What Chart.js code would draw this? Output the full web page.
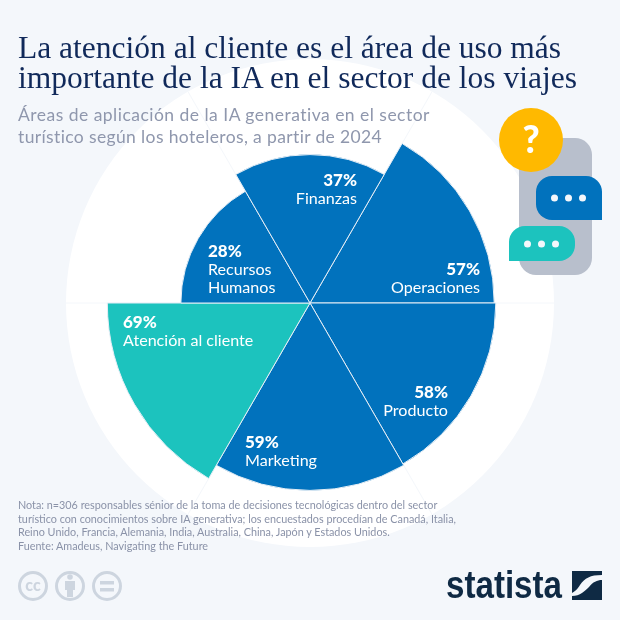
<!DOCTYPE html>
<html lang="es">
<head>
<meta charset="utf-8">
<title>IA en el sector de los viajes</title>
<script src="https://cdn.jsdelivr.net/npm/chart.js@4/dist/chart.umd.min.js"></script>
<style>
    html, body { margin: 0; padding: 0; background: #f4f7fb; }
    #page { position: relative; width: 620px; height: 620px; overflow: hidden; background: #f4f7fb; }
    #page canvas { position: absolute; left: 0; top: 0; }
    .txt { position: absolute; white-space: nowrap; }
    #title { left: 18px; top: 33px; font: 400 31.5px/30px "Liberation Serif", serif; color: #10295a; }
    #subtitle { left: 18px; top: 104px; font: 400 17.5px/22px Lato, sans-serif; color: #8f97ad; letter-spacing: 0.48px; }
    #subtitle span { letter-spacing: 0.37px; }
    #note { left: 18px; top: 498px; font: 400 10.8px/13.7px Lato, sans-serif; color: #8a92a8; }
    #art, #marks { position: absolute; left: 0; top: 0; }
</style>
</head>
<body>
<div id="page">
    <canvas id="chart" width="620" height="620"></canvas>
    <svg id="art" width="620" height="620" viewBox="0 0 620 620">
        <rect x="519" y="138" width="73" height="137" rx="17" fill="#b8bfcc"/>
        <circle cx="531" cy="140" r="32" fill="#ffb900"/>
        <text x="531" y="153" text-anchor="middle" font-family="Lato, sans-serif" font-weight="900" font-size="37" fill="#fff">?</text>
        <path d="M552 176H586a16 16 0 0 1 16 16V220H552a16 16 0 0 1 -16 -16V192a16 16 0 0 1 16 -16z" fill="#0172bd"/>
        <circle cx="554.500" cy="198" r="3.500" fill="#f4f7fb"/>
        <circle cx="568.500" cy="198" r="3.500" fill="#f4f7fb"/>
        <circle cx="582.500" cy="198" r="3.500" fill="#f4f7fb"/>
        <path d="M525 226H559a16 16 0 0 1 16 16V245a16 16 0 0 1 -16 16H509V242a16 16 0 0 1 16 -16z" fill="#1cc3be"/>
        <circle cx="527.500" cy="244" r="3.500" fill="#f4f7fb"/>
        <circle cx="541.500" cy="244" r="3.500" fill="#f4f7fb"/>
        <circle cx="555.500" cy="244" r="3.500" fill="#f4f7fb"/>
    </svg>
    <svg id="marks" width="620" height="620" viewBox="0 0 620 620">
        <g fill="none" stroke="#cdd5df" stroke-width="3">
            <circle cx="33" cy="586" r="13.500"/>
            <circle cx="70" cy="586" r="13.500"/>
            <circle cx="107" cy="586" r="13.500"/>
        </g>
        <text x="33" y="591" text-anchor="middle" font-family="Lato, sans-serif" font-weight="900" font-size="16" fill="#cdd5df">cc</text>
        <circle cx="70" cy="577" r="2.800" fill="#cdd5df"/>
        <path d="M65 581H75V590H73V597H67V590H65z" fill="#cdd5df"/>
        <rect x="100" y="581" width="14" height="3.500" fill="#cdd5df"/>
        <rect x="100" y="588" width="14" height="3.500" fill="#cdd5df"/>
        <text x="446" y="598" font-family="'Liberation Sans Narrow', 'Liberation Sans', sans-serif" font-weight="700" font-size="38" textLength="116" lengthAdjust="spacingAndGlyphs" fill="#0f2a44">statista</text>
        <path d="M572 571H602V575C590 575 585 578 580 585 577 590 574 592 572 593zM602 580V600H572V596C580 596 585 591 589 587 593 582 597 580 602 580z" fill="#0f2a44"/>
    </svg>
    <div class="txt" id="title">La atención al cliente es el área de uso más<br>importante de la IA en el sector de los viajes</div>
    <div class="txt" id="subtitle">Áreas de aplicación de la IA generativa en el sector<br><span>turístico según los hoteleros, a partir de 2024</span></div>
    <div class="txt" id="note">Nota: n=306 responsables sénior de la toma de decisiones tecnológicas dentro del sector<br>turístico con conocimientos sobre IA generativa; los encuestados procedían de Canadá, Italia,<br>Reino Unido, Francia, Alemania, India, Australia, China, Japón y Estados Unidos.<br>Fuente: Amadeus, Navigating the Future</div>
</div>
<script>
const categories = [['Operaciones'], ['Producto'], ['Marketing'], ['Atención al cliente'], ['Recursos', 'Humanos'], ['Finanzas']];
const values = [57, 58, 59, 69, 28, 37];
const colors = ['#0172bd', '#0172bd', '#0172bd', '#1cc3be', '#0172bd', '#0172bd'];

// where each label sits, measured from the chart centre: [x, y of the % line, align]
const labelSpots = [
    [170, -28, 'right'],
    [138, 95, 'right'],
    [-65, 145, 'left'],
    [-187, 25, 'left'],
    [-102, -46, 'left'],
    [47, -117, 'right']
];

// the picture sizes the slices by area, so the radius goes with the square root
class SqrtRadialScale extends Chart.RadialLinearScale {
    static id = 'radialSqrt';
    getDistanceFromCenterForValue(value) {
        if (value === null || isNaN(value)) {
            return NaN;
        }
        return this.drawingArea * Math.sqrt((value - this.min) / (this.max - this.min));
    }
}
Chart.register(SqrtRadialScale);

const sliceLabels = {
    id: 'sliceLabels',
    afterDatasetsDraw(chart) {
        const ctx = chart.ctx;
        const scale = chart.scales.r;
        ctx.save();
        ctx.fillStyle = '#fff';
        ctx.textBaseline = 'alphabetic';
        values.forEach((v, i) => {
            const spot = labelSpots[i];
            const x = scale.xCenter + spot[0];
            let y = scale.yCenter + spot[1];
            ctx.textAlign = spot[2];
            ctx.font = '900 17px Lato, sans-serif';
            ctx.fillText(v + '%', x, y);
            ctx.font = '400 16.100px Lato, sans-serif';
            categories[i].forEach(line => {
                y += 18;
                ctx.fillText(line, x, y);
            });
        });
        ctx.restore();
    }
};

new Chart(document.getElementById('chart'), {
    type: 'polarArea',
    data: {
        labels: categories.map(c => c.join(' ')),
        datasets: [{
            data: values,
            backgroundColor: colors,
            borderColor: '#e6eef6',
            borderWidth: 1
        }]
    },
    options: {
        responsive: false,
        animation: false,
        layout: { padding: { left: 66, right: 66, top: 59, bottom: 73 } },
        plugins: { legend: { display: false }, tooltip: { enabled: false } },
        scales: {
            r: {
                type: 'radialSqrt',
                min: 0,
                max: 100,
                startAngle: 30,
                backgroundColor: '#fff',
                grid: { display: false, circular: true },
                angleLines: { display: true, color: '#f4f7fb', lineWidth: 1 },
                ticks: { display: false },
                pointLabels: { display: false }
            }
        }
    },
    plugins: [sliceLabels]
});
</script>
</body>
</html>
